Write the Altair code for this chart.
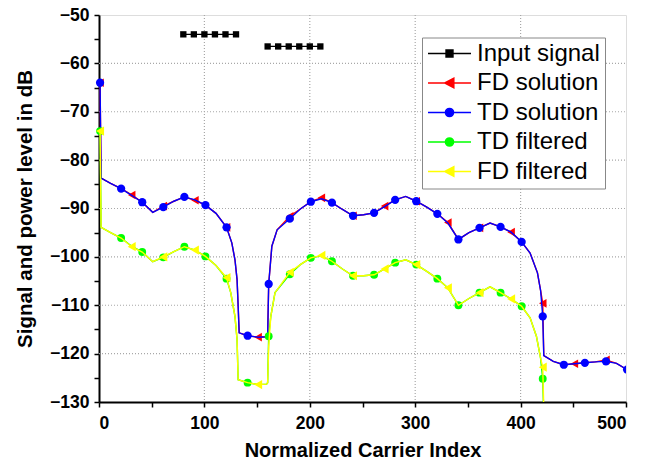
import altair as alt
import pandas as pd

series_names = ["Input signal", "FD solution", "TD solution", "TD filtered", "FD filtered"]
series_colors = ["#000000", "#FF0000", "#0000FF", "#00FF00", "#FFFF00"]

# Input signal (two blocks of carriers)
input_x = [80, 90, 100, 110, 120, 130, 160, 170, 180, 190, 200, 210]
input_y = [-54, -54, -54, -54, -54, -54, -56.5, -56.5, -56.5, -56.5, -56.5, -56.5]
input_block = [1, 1, 1, 1, 1, 1, 2, 2, 2, 2, 2, 2]

# Unfiltered solutions
sol_x = [1, 2, 11, 21, 31, 41, 51, 61, 71, 81, 91, 101, 111, 121, 126, 129, 131, 132, 133, 141,
         151, 159, 160, 161, 164, 169, 181, 191, 201, 211, 221, 231, 241, 251, 261, 271, 281, 291, 301, 311,
         321, 331, 341, 351, 361, 371, 381, 391, 401, 409, 416, 419, 421, 422, 431, 441, 451, 461, 471, 481,
         491, 501]
td_y = [-64.0, -83.7, -84.8, -85.9, -87.3, -88.7, -90.8, -89.7, -88.5, -87.6, -88.2, -89.3, -91.0, -93.9, -97.1, -100.6, -104.7, -110.0, -115.7, -116.3,
        -116.6, -116.5, -116.4, -105.6, -97.8, -94.4, -92.1, -90.1, -88.6, -88.0, -88.8, -90.2, -91.5, -91.3, -90.9, -89.6, -88.2, -87.5, -88.5, -89.7,
        -91.1, -93.0, -96.4, -95.0, -94.0, -93.0, -93.8, -94.9, -96.9, -99.2, -103.3, -107.0, -112.3, -120.4, -121.6, -122.3, -122.1, -121.9, -121.7, -121.6,
        -122.0, -123.3]
fd_y = [-64.0, -83.7, -84.8, -85.9, -87.2, -88.7, -90.8, -89.5, -88.5, -87.6, -88.3, -89.3, -91.0, -93.9, -97.1, -100.6, -104.7, -110.0, -115.7, -116.3,
        -116.6, -116.5, -116.4, -105.6, -97.8, -94.4, -91.6, -90.1, -88.6, -87.8, -88.8, -90.2, -91.5, -91.3, -90.9, -89.5, -88.2, -87.5, -88.5, -89.7,
        -91.1, -92.9, -96.4, -95.0, -94.0, -93.0, -93.8, -94.9, -96.9, -99.2, -103.3, -107.0, -109.6, -120.4, -121.6, -122.3, -122.1, -121.9, -121.7, -121.3,
        -122.0, -123.3]

# Filtered solutions
filt_x = [1, 2, 11, 21, 31, 41, 51, 61, 71, 81, 91, 101, 111, 121, 125, 129, 131, 132, 141, 151,
          159, 160, 161, 163, 167, 181, 191, 201, 211, 221, 231, 241, 251, 261, 271, 281, 291, 301, 311, 321,
          331, 341, 351, 361, 371, 381, 391, 401, 409, 415, 419, 421, 423]
tdf_y = [-74.0, -93.9, -95.0, -96.1, -97.8, -99.0, -101.0, -100.1, -98.9, -97.9, -98.6, -99.9, -101.8, -104.5, -107.4, -112.3, -117.1, -125.4, -126.0, -126.4,
         -126.3, -126.0, -116.4, -112.3, -107.4, -103.6, -101.6, -100.2, -99.8, -100.9, -102.5, -103.9, -103.9, -103.7, -102.5, -101.2, -100.6, -101.6, -103.0, -104.5,
         -106.4, -110.0, -108.6, -107.4, -106.2, -107.4, -108.7, -110.2, -112.6, -116.4, -121.0, -125.2, -140.0]
fdf_y = [-74.0, -93.9, -95.0, -96.1, -97.9, -99.0, -101.0, -100.0, -98.9, -97.9, -98.6, -99.9, -101.8, -104.3, -107.4, -112.3, -117.1, -125.4, -126.0, -126.4,
         -126.3, -126.0, -118.5, -112.3, -107.4, -103.2, -101.6, -100.2, -99.7, -100.9, -102.5, -103.9, -103.9, -103.7, -102.5, -101.2, -100.6, -101.6, -103.0, -104.5,
         -106.4, -110.0, -108.6, -107.4, -106.2, -107.4, -108.7, -110.2, -112.6, -116.4, -121.0, -122.8, -140.0]

# marker spacing (carrier step between plotted symbols)
circle_step = 20
triangle_step = 30

x_ticks = [0, 50, 100, 150, 200, 250, 300, 350, 400, 450, 500]
y_ticks = [-130, -125, -120, -115, -110, -105, -100, -95, -90, -85, -80, -75, -70, -65, -60, -55, -50]
x_grid = [100, 200, 300, 400]
y_grid = [-120, -110, -100, -90, -80, -70, -60]

legend_paths = [
    "M-1,0H1M-0.16,-0.16H0.16V0.16H-0.16Z",
    "M-1,0H1M-0.22,0L0.2,-0.22L0.2,0.22Z",
    "M-1,0H1M-0.19,0A0.19,0.19,0,1,1,0.19,0A0.19,0.19,0,1,1,-0.19,0Z",
    "M-1,0H1M-0.19,0A0.19,0.19,0,1,1,0.19,0A0.19,0.19,0,1,1,-0.19,0Z",
    "M-1,0H1M-0.22,0L0.2,-0.22L0.2,0.22Z",
]

FONT = "Liberation Sans"
GRID = "#A8A8A8"

xs = alt.Scale(domain=[0, 500], nice=False, zero=False)
ys = alt.Scale(domain=[-130, -50], nice=False, zero=False)

x_axis = alt.Axis(
    title="Normalized Carrier Index", values=x_ticks, grid=False,
    labelExpr="datum.value % 100 === 0 ? datum.label : ''",
    labelFont=FONT, labelFontWeight="bold", labelFontSize=17.5, labelColor="black", labelPadding=7,
    titleFont=FONT, titleFontWeight="bold", titleFontSize=20, titleColor="black", titlePadding=9,
    tickSize=5, tickWidth=1.5, tickColor="black", domainColor="black", domainWidth=2,
)
y_axis = alt.Axis(
    title="Signal and power level in dB", values=y_ticks, grid=False,
    labelExpr="datum.value % 10 === 0 ? (datum.value < 0 ? '\u2212' + format(-datum.value, 'd') : format(datum.value, 'd')) : ''",
    labelFont=FONT, labelFontWeight="bold", labelFontSize=17.5, labelColor="black", labelPadding=5,
    titleFont=FONT, titleFontWeight="bold", titleFontSize=20.5, titleColor="black", titlePadding=14,
    tickSize=5, tickWidth=1.5, tickColor="black", domainColor="black", domainWidth=2,
)

input_df = pd.DataFrame({"x": input_x, "y": input_y, "block": input_block})
sol_df = pd.DataFrame({"x": sol_x, "td": td_y, "fd": fd_y})
filt_df = pd.DataFrame({"x": filt_x, "td": tdf_y, "fd": fdf_y})
xgrid_df = pd.DataFrame({"gx": x_grid})
ygrid_df = pd.DataFrame({"gy": y_grid})


def X(col="x"):
    return alt.X(f"{col}:Q", scale=xs, axis=x_axis)


def Y(col):
    return alt.Y(f"{col}:Q", scale=ys, axis=y_axis)


def series_layers(df, col, color, shape, size, step):
    base = alt.Chart(df)
    line = base.mark_line(color=color, strokeWidth=1.4, clip=True).encode(x=X(), y=Y(col))
    marked = base.transform_filter(f"(datum.x - 1) % {step} === 0")
    pts_in = marked.transform_filter("datum.x < 10").mark_point(
        shape=shape, filled=True, color=color, size=size, opacity=1
    ).encode(x=X(), y=Y(col))
    pts = marked.transform_filter("datum.x >= 10").mark_point(
        shape=shape, filled=True, color=color, size=size, opacity=1, clip=True
    ).encode(x=X(), y=Y(col))
    return [line, pts_in, pts]


grid_v = alt.Chart(xgrid_df).mark_rule(
    color=GRID, strokeDash=[1, 2], strokeWidth=1.2, opacity=1
).encode(x=X("gx"), y=alt.value(0), y2=alt.value(387))
grid_h = alt.Chart(ygrid_df).mark_rule(
    color=GRID, strokeDash=[1, 2], strokeWidth=1.2, opacity=1
).encode(y=Y("gy"), x=alt.value(0), x2=alt.value(527))

inp_line = alt.Chart(input_df).mark_line(color="black", strokeWidth=1.2).encode(
    x=X(), y=Y("y"), detail="block:N")
inp_pts = alt.Chart(input_df).mark_point(shape="square", filled=True, color="black", size=40, opacity=1).encode(
    x=X(), y=Y("y"))

layers = [grid_v, grid_h, inp_line, inp_pts]
layers += series_layers(sol_df, "fd", "#FF0000", "triangle-left", 75, triangle_step)
layers += series_layers(sol_df, "td", "#0000FF", "circle", 68, circle_step)
layers += series_layers(filt_df, "td", "#00FF00", "circle", 62, circle_step)
layers += series_layers(filt_df, "fd", "#FFFF00", "triangle-left", 85, triangle_step)

leg = alt.Legend(
    title=None, orient="none", legendX=323, legendY=22.5,
    labelFont=FONT, labelFontSize=24, labelColor="black", labelOffset=5, labelLimit=300,
    symbolSize=1849, symbolStrokeWidth=1.5, rowPadding=5.5, padding=5, clipHeight=22,
    fillColor="white", strokeColor="#888888",
)
legend_df = pd.DataFrame({"series": series_names})
legend_layer = alt.Chart(legend_df).transform_filter("false").mark_point(
    filled=True, size=1849, strokeWidth=1.5, opacity=1
).encode(
    shape=alt.Shape("series:N", scale=alt.Scale(domain=series_names, range=legend_paths), legend=leg),
    fill=alt.Fill("series:N", scale=alt.Scale(domain=series_names, range=series_colors), legend=leg),
    stroke=alt.Stroke("series:N", scale=alt.Scale(domain=series_names, range=series_colors), legend=leg),
)
layers.append(legend_layer)

chart = alt.layer(*layers).properties(
    width=527, height=387,
    autosize=alt.AutoSizeParams(type="none"),
    padding={"left": 91, "top": 7, "right": 22, "bottom": 55},
).configure_view(stroke="black", strokeWidth=1.2).configure(background="white")

chart.save("out.html", embed_options={"renderer": "svg", "actions": False})
